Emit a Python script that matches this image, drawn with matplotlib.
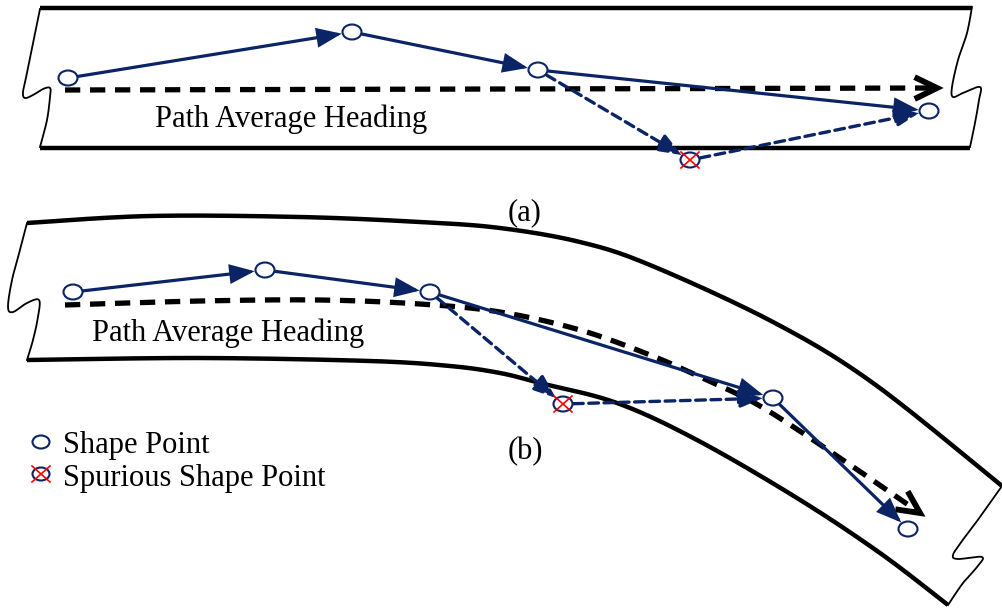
import numpy as np
import matplotlib.pyplot as plt
from matplotlib.patches import Ellipse, FancyArrowPatch

plt.rcParams['lines.scale_dashes'] = False

# diagram coordinates are in pixels (y grows downwards)
# panel (a): straight road
a_top_x = [40, 972]
a_top_y = [8, 8]
a_bot_x = [40, 970]
a_bot_y = [148, 148]
a_left_edge = [(40, 9), (33, 43), (27, 73), (23, 92), (25, 98), (33, 95), (43, 89),
               (50, 88), (50, 97), (47, 120), (40, 147)]
a_right_edge = [(972, 7), (967, 33), (958, 60), (952, 87), (953, 97), (963, 93),
                (980, 87), (979, 100), (975, 123), (970, 147)]
a_heading = [(65, 90), (937, 88)]
a_pts_x = [68, 352, 538, 929]
a_pts_y = [78, 32, 70, 111]
a_spur = (690, 160)

# panel (b): curved road
b_top = [(27, 223), (150, 216), (300, 217), (420, 222), (500, 228), (580, 242),
         (650, 265), (773, 322), (873, 383), (1002, 486)]
b_bot = [(27, 360), (200, 358), (370, 361), (450, 366), (500, 373), (540, 383),
         (617, 403), (697, 440), (797, 498), (880, 553), (948, 605)]
b_left_edge = [(27, 223), (20, 250), (12, 280), (8, 307), (13, 312), (27, 303),
               (39, 300), (38, 317), (33, 340), (27, 360)]
b_right_edge = [(1002, 486), (980, 517), (962, 541), (953, 555), (958, 559),
                (982, 557), (977, 567), (963, 583), (948, 605)]
b_heading = [(65, 305), (200, 301), (320, 300), (420, 304), (500, 312), (580, 330),
             (650, 355), (700, 377), (760, 406), (840, 458), (920, 513)]
b_pts_x = [73, 265, 430, 773, 908]
b_pts_y = [292, 270, 292, 398, 529]
b_spur = (563, 404)

navy = '#0b2466'
serif = 'Liberation Serif'
EW, EH = 19, 15


def smooth(pts, n=20):
    pts = np.asarray(pts, float)
    p = np.vstack([pts[0], pts, pts[-1]])
    out = []
    t = np.linspace(0, 1, n, endpoint=False)[:, None]
    for i in range(1, len(p) - 2):
        p0, p1, p2, p3 = p[i - 1], p[i], p[i + 1], p[i + 2]
        out.append(0.5 * (2 * p1 + (-p0 + p2) * t + (2 * p0 - 5 * p1 + 4 * p2 - p3) * t ** 2
                          + (-p0 + 3 * p1 - 3 * p2 + p3) * t ** 3))
    out.append(pts[-1:])
    return np.vstack(out)


def edge_offset(p, q):
    # distance from ellipse centre to its edge along p->q
    d = np.subtract(q, p)
    u = d / np.hypot(*d)
    return 1.0 / np.sqrt((u[0] / (EW / 2)) ** 2 + (u[1] / (EH / 2)) ** 2), u


def arrow(ax, p, q, dashed=False):
    ra, u = edge_offset(p, q)
    rb, _ = edge_offset(q, p)
    s = np.array(p) + u * (ra + 1)
    e = np.array(q) - u * (rb + 1)
    ar = FancyArrowPatch(s, e, arrowstyle='-|>,head_length=14,head_width=5.5',
                         color=navy, lw=2.4 if dashed else 2.3, shrinkA=0, shrinkB=0,
                         linestyle=(0, (7, 4)) if dashed else '-', zorder=3,
                         joinstyle='miter')
    ax.add_patch(ar)


def heading(ax, pts):
    pts = np.asarray(pts, float)
    ax.plot(pts[:, 0], pts[:, 1], color='black', lw=3.8, dashes=(11, 7),
            solid_capstyle='butt', dash_capstyle='butt', zorder=2)
    tip = pts[-1]
    d = pts[-1] - pts[-2]
    d = d / np.hypot(*d)
    L = 22
    arms = []
    for ang in (np.radians(26), -np.radians(26)):
        c, s_ = np.cos(ang), np.sin(ang)
        r = np.array([d[0] * c - d[1] * s_, d[0] * s_ + d[1] * c])
        arms.append(tip - L * r)
    ch = np.array([arms[0], tip, arms[1]])
    ax.plot(ch[:, 0], ch[:, 1], color='black', lw=4.2, solid_joinstyle='miter', zorder=2)


def shape_point(ax, x, y, w=EW, h=EH):
    ax.add_patch(Ellipse((x, y), w, h, facecolor='white', edgecolor=navy, lw=1.5, zorder=4))


def spur_point(ax, x, y, w=EW, h=EH):
    shape_point(ax, x, y, w, h)
    ax.plot([x - 9, x + 9], [y - 8, y + 8], color='red', lw=1.2, zorder=5)
    ax.plot([x - 9, x + 9], [y + 8, y - 8], color='red', lw=1.2, zorder=5)


fig = plt.figure(figsize=(10.02, 6.08), dpi=100)
ax = fig.add_axes([0, 0, 1, 1])
ax.set_xlim(0, 1002)
ax.set_ylim(608, 0)
ax.axis('off')

# ---- panel (a)
ax.plot(a_top_x, a_top_y, color='black', lw=3.2, solid_capstyle='butt')
ax.plot(a_bot_x, a_bot_y, color='black', lw=3.2, solid_capstyle='butt')
for edge in (a_left_edge, a_right_edge):
    c = smooth(edge)
    ax.plot(c[:, 0], c[:, 1], color='black', lw=1.3)
heading(ax, a_heading)
a_pts = list(zip(a_pts_x, a_pts_y))
for p, q in zip(a_pts[:-1], a_pts[1:]):
    arrow(ax, p, q)
arrow(ax, a_pts[2], a_spur, dashed=True)
arrow(ax, a_spur, a_pts[3], dashed=True)
for x, y in a_pts:
    shape_point(ax, x, y)
spur_point(ax, *a_spur)
ax.text(155, 127, 'Path Average Heading', family=serif, fontsize=22, va='baseline')
ax.text(525, 213, '(a)', family=serif, fontsize=22, ha='center', va='center')

# ---- panel (b)
for curve in (b_top, b_bot):
    c = smooth(curve)
    ax.plot(c[:, 0], c[:, 1], color='black', lw=3.2, solid_capstyle='butt')
for edge in (b_left_edge, b_right_edge):
    c = smooth(edge)
    ax.plot(c[:, 0], c[:, 1], color='black', lw=1.3)
hb = smooth(b_heading)
heading(ax, hb)
b_pts = list(zip(b_pts_x, b_pts_y))
for p, q in zip(b_pts[:-1], b_pts[1:]):
    arrow(ax, p, q)
arrow(ax, b_pts[2], b_spur, dashed=True)
arrow(ax, b_spur, b_pts[3], dashed=True)
for x, y in b_pts:
    shape_point(ax, x, y)
spur_point(ax, *b_spur)
ax.text(92, 341, 'Path Average Heading', family=serif, fontsize=22, va='baseline')
ax.text(525, 452, '(b)', family=serif, fontsize=22, ha='center', va='center')

# ---- legend
shape_point(ax, 41, 442, 17, 13)
spur_point(ax, 41, 474, 17, 13)
ax.text(63, 453, 'Shape Point', family=serif, fontsize=22, va='baseline')
ax.text(63, 486, 'Spurious Shape Point', family=serif, fontsize=22, va='baseline')

fig.savefig('out.png', dpi=100)
